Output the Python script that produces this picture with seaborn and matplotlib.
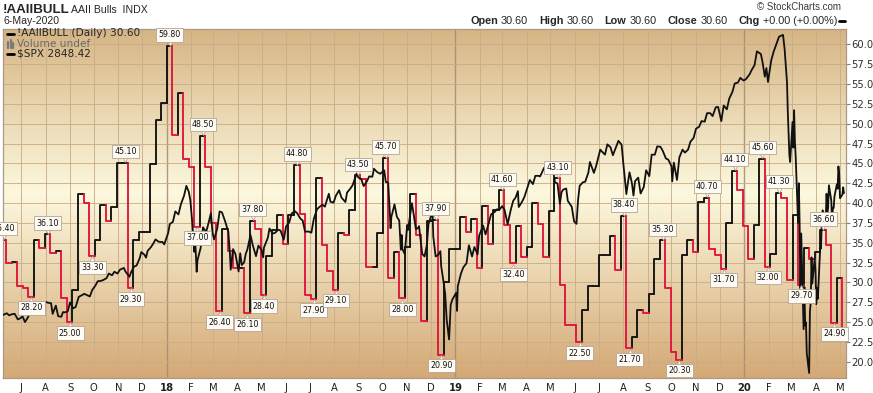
import numpy as np
import pandas as pd
import seaborn as sns
import matplotlib.pyplot as plt
import matplotlib.dates as mdates
from matplotlib.transforms import offset_copy
from matplotlib.lines import Line2D

W, H = 873, 393

# AAII % bullish, one reading per week (week-start Monday)
aaii_first_week = "2017-06-05"
aaii_2017 = [35.4, 32.4, 32.6, 29.6, 29.3, 28.2, 35.3, 34.3, 36.1, 33.7,
             34.0, 28.0, 25.0, 29.1, 41.1, 40.0, 33.3, 35.4, 39.7, 37.7,
             39.5, 45.1, 45.1, 29.3, 35.3, 36.4, 36.4, 44.9, 50.5, 52.6]
aaii_2018 = [59.8, 48.6, 53.9, 45.5, 44.6, 37.0, 48.5, 44.5, 37.5, 26.4,
             36.7, 34.0, 31.8, 31.8, 26.1, 37.8, 36.7, 28.4, 33.3, 36.6,
             38.5, 34.9, 38.5, 44.8, 38.6, 28.4, 27.9, 43.1, 34.7, 31.5,
             29.1, 36.2, 36.0, 39.1, 43.5, 43.0, 32.0, 32.0, 36.2, 45.7,
             30.6, 33.8, 28.0, 34.5, 41.1, 36.0, 25.2, 37.8, 37.9, 20.9,
             30.0, 34.2]
aaii_2019 = [34.2, 38.3, 36.4, 38.0, 31.8, 39.6, 34.9, 39.1, 41.6, 37.2,
             32.4, 37.1, 33.2, 34.5, 40.0, 37.4, 33.2, 39.0, 43.1, 29.7,
             24.7, 24.6, 22.5, 26.5, 29.5, 29.5, 33.5, 33.5, 35.8, 31.6,
             38.4, 21.7, 23.1, 26.5, 26.2, 28.6, 33.0, 35.3, 29.3, 21.3,
             20.3, 33.5, 35.4, 33.8, 40.2, 40.7, 34.2, 33.5, 31.7, 37.5,
             44.1, 41.7]
aaii_2020 = [37.1, 33.0, 37.3, 45.6, 32.0, 33.6, 41.3, 40.6, 30.3, 38.5,
             29.7, 34.3, 33.0, 33.8, 36.6, 34.7, 24.9, 30.6, 24.0]
aaii_last_day = "2020-05-06"

# weeks (index into the weekly series) that carry a value flag
peak_weeks = [0, 8, 22, 30, 36, 45, 53, 64, 69, 78, 90, 100, 112, 119, 127,
              132, 137, 140, 148]
trough_weeks = [5, 12, 16, 23, 35, 39, 44, 47, 56, 60, 72, 79, 92, 104, 113,
                122, 130, 138, 144, 150]

# S&P 500 closes (hidden overlay scale)
spx_2017 = [("06-05", 2437), ("06-08", 2434), ("06-13", 2440), ("06-16", 2433),
            ("06-20", 2437), ("06-23", 2438), ("06-27", 2419), ("06-30", 2423),
            ("07-03", 2429), ("07-06", 2410), ("07-10", 2427), ("07-14", 2459),
            ("07-19", 2473), ("07-21", 2472), ("07-26", 2477), ("07-28", 2472),
            ("08-02", 2478), ("08-04", 2476), ("08-08", 2474), ("08-10", 2438),
            ("08-14", 2466), ("08-17", 2430), ("08-21", 2428), ("08-23", 2444),
            ("08-25", 2443), ("08-29", 2446), ("09-01", 2477), ("09-05", 2457),
            ("09-08", 2461), ("09-12", 2496), ("09-15", 2500), ("09-19", 2506),
            ("09-22", 2502), ("09-26", 2497), ("09-29", 2519), ("10-03", 2534),
            ("10-06", 2549), ("10-10", 2550), ("10-13", 2553), ("10-17", 2559),
            ("10-20", 2575), ("10-24", 2569), ("10-27", 2581), ("10-31", 2575),
            ("11-03", 2588), ("11-08", 2594), ("11-10", 2582), ("11-15", 2564),
            ("11-17", 2579), ("11-21", 2599), ("11-24", 2602), ("11-28", 2627),
            ("11-30", 2648), ("12-04", 2639), ("12-06", 2629), ("12-08", 2652),
            ("12-12", 2664), ("12-15", 2676), ("12-18", 2691), ("12-22", 2683),
            ("12-27", 2682), ("12-29", 2674)]
spx_2018 = [("01-03", 2713), ("01-05", 2743), ("01-09", 2751), ("01-12", 2786),
            ("01-16", 2776), ("01-19", 2810), ("01-23", 2839), ("01-26", 2873),
            ("01-29", 2853), ("01-31", 2824), ("02-02", 2762), ("02-05", 2649),
            ("02-06", 2695), ("02-08", 2581), ("02-09", 2620), ("02-13", 2662),
            ("02-16", 2732), ("02-20", 2716), ("02-23", 2747), ("02-26", 2780),
            ("02-28", 2714), ("03-02", 2691), ("03-06", 2728), ("03-09", 2786),
            ("03-12", 2783), ("03-16", 2752), ("03-20", 2717), ("03-22", 2643),
            ("03-23", 2588), ("03-26", 2658), ("03-29", 2641), ("04-02", 2582),
            ("04-04", 2644), ("04-06", 2604), ("04-09", 2613), ("04-11", 2642),
            ("04-13", 2656), ("04-17", 2706), ("04-20", 2670), ("04-24", 2634),
            ("04-27", 2670), ("05-01", 2655), ("05-03", 2630), ("05-04", 2663),
            ("05-09", 2697), ("05-11", 2728), ("05-15", 2711), ("05-18", 2713),
            ("05-22", 2724), ("05-25", 2721), ("05-29", 2690), ("06-01", 2735),
            ("06-05", 2749), ("06-08", 2779), ("06-12", 2787), ("06-15", 2780),
            ("06-19", 2762), ("06-22", 2755), ("06-25", 2717), ("06-29", 2718),
            ("07-03", 2714), ("07-06", 2760), ("07-10", 2793), ("07-13", 2801),
            ("07-17", 2809), ("07-20", 2802), ("07-25", 2846), ("07-27", 2819),
            ("07-31", 2816), ("08-03", 2840), ("08-07", 2858), ("08-10", 2833),
            ("08-15", 2818), ("08-17", 2850), ("08-21", 2863), ("08-24", 2875),
            ("08-29", 2914), ("08-31", 2902), ("09-04", 2896), ("09-07", 2872),
            ("09-11", 2888), ("09-14", 2905), ("09-18", 2904), ("09-20", 2931),
            ("09-24", 2920), ("09-28", 2914), ("10-03", 2926), ("10-05", 2886),
            ("10-08", 2884), ("10-10", 2786), ("10-11", 2729), ("10-12", 2767),
            ("10-16", 2810), ("10-19", 2768), ("10-22", 2755), ("10-24", 2656),
            ("10-25", 2706), ("10-26", 2658), ("10-29", 2641), ("11-01", 2740),
            ("11-02", 2723), ("11-07", 2814), ("11-09", 2781), ("11-12", 2726),
            ("11-15", 2730), ("11-16", 2736), ("11-20", 2642), ("11-23", 2633),
            ("11-26", 2674), ("11-28", 2744), ("11-30", 2760), ("12-03", 2790),
            ("12-04", 2701), ("12-07", 2633), ("12-10", 2638), ("12-13", 2651),
            ("12-14", 2600), ("12-17", 2546), ("12-19", 2507), ("12-21", 2417),
            ("12-24", 2351), ("12-26", 2468), ("12-28", 2486)]
spx_2019 = [("01-02", 2510), ("01-03", 2448), ("01-04", 2532), ("01-08", 2575),
            ("01-11", 2596), ("01-15", 2610), ("01-18", 2671), ("01-22", 2633),
            ("01-25", 2665), ("01-29", 2640), ("01-31", 2704), ("02-05", 2738),
            ("02-08", 2708), ("02-12", 2745), ("02-15", 2776), ("02-20", 2785),
            ("02-22", 2793), ("02-26", 2793), ("03-01", 2804), ("03-04", 2792),
            ("03-08", 2743), ("03-12", 2792), ("03-15", 2822), ("03-18", 2833),
            ("03-21", 2855), ("03-22", 2801), ("03-26", 2818), ("03-29", 2834),
            ("04-02", 2867), ("04-05", 2893), ("04-09", 2879), ("04-12", 2907),
            ("04-16", 2907), ("04-18", 2905), ("04-23", 2934), ("04-26", 2940),
            ("04-30", 2946), ("05-03", 2946), ("05-07", 2884), ("05-10", 2881),
            ("05-13", 2812), ("05-15", 2850), ("05-17", 2860), ("05-21", 2864),
            ("05-23", 2822), ("05-28", 2802), ("05-31", 2752), ("06-03", 2744),
            ("06-05", 2826), ("06-07", 2873), ("06-11", 2885), ("06-14", 2887),
            ("06-18", 2918), ("06-20", 2954), ("06-25", 2917), ("06-28", 2942),
            ("07-03", 2996), ("07-05", 2990), ("07-09", 2979), ("07-12", 3014),
            ("07-16", 3004), ("07-19", 2977), ("07-23", 3005), ("07-26", 3026),
            ("07-30", 3013), ("08-01", 2954), ("08-05", 2845), ("08-07", 2884),
            ("08-09", 2919), ("08-12", 2883), ("08-14", 2840), ("08-16", 2889),
            ("08-20", 2901), ("08-23", 2847), ("08-27", 2869), ("08-30", 2926),
            ("09-03", 2906), ("09-06", 2979), ("09-10", 2979), ("09-13", 3007),
            ("09-17", 3006), ("09-20", 2992), ("09-24", 2966), ("09-27", 2962),
            ("10-01", 2940), ("10-02", 2888), ("10-04", 2952), ("10-08", 2893),
            ("10-11", 2970), ("10-15", 2996), ("10-18", 2986), ("10-22", 2996),
            ("10-25", 3023), ("10-29", 3036), ("11-01", 3067), ("11-05", 3074),
            ("11-08", 3093), ("11-12", 3091), ("11-15", 3120), ("11-19", 3120),
            ("11-22", 3110), ("11-26", 3140), ("11-29", 3141), ("12-03", 3093),
            ("12-06", 3146), ("12-10", 3133), ("12-13", 3169), ("12-17", 3192),
            ("12-20", 3221), ("12-24", 3224), ("12-27", 3240), ("12-31", 3231)]
spx_2020 = [("01-03", 3235), ("01-06", 3246), ("01-08", 3253), ("01-10", 3265),
            ("01-14", 3283), ("01-17", 3330), ("01-22", 3321), ("01-24", 3295),
            ("01-27", 3244), ("01-29", 3273), ("01-31", 3226), ("02-04", 3298),
            ("02-07", 3328), ("02-11", 3358), ("02-14", 3380), ("02-19", 3386),
            ("02-21", 3338), ("02-24", 3226), ("02-25", 3128), ("02-27", 2979),
            ("02-28", 2954), ("03-02", 3090), ("03-03", 3003), ("03-04", 3130),
            ("03-05", 3024), ("03-06", 2972), ("03-09", 2747), ("03-10", 2882),
            ("03-11", 2741), ("03-12", 2481), ("03-13", 2711), ("03-16", 2386),
            ("03-17", 2529), ("03-18", 2398), ("03-19", 2409), ("03-20", 2305),
            ("03-23", 2237), ("03-24", 2447), ("03-25", 2476), ("03-26", 2630),
            ("03-27", 2541), ("03-30", 2627), ("03-31", 2585), ("04-01", 2471),
            ("04-02", 2527), ("04-03", 2489), ("04-06", 2664), ("04-07", 2660),
            ("04-08", 2750), ("04-09", 2790), ("04-13", 2762), ("04-14", 2846),
            ("04-15", 2783), ("04-16", 2800), ("04-17", 2875), ("04-20", 2823),
            ("04-21", 2737), ("04-22", 2799), ("04-23", 2798), ("04-24", 2837),
            ("04-27", 2878), ("04-28", 2863), ("04-29", 2939), ("04-30", 2912),
            ("05-01", 2831), ("05-04", 2843), ("05-05", 2868), ("05-06", 2848)]

month_labels = ["J", "A", "S", "O", "N", "D",
                "18", "F", "M", "A", "M", "J", "J", "A", "S", "O", "N", "D",
                "19", "F", "M", "A", "M", "J", "J", "A", "S", "O", "N", "D",
                "20", "F", "M", "A", "M"]

# ---------------------------------------------------------------- data prep
aaii = aaii_2017 + aaii_2018 + aaii_2019 + aaii_2020
weeks = pd.date_range(aaii_first_week, periods=len(aaii), freq="7D")
ends = list(weeks[1:]) + [pd.Timestamp(aaii_last_day)]

seg_rows = []
for i, v in enumerate(aaii):
    prev = aaii[i - 1] if i > 0 else v
    d = "down" if v < prev else "up"
    seg_rows += [(i, weeks[i], prev, d), (i, weeks[i], v, d), (i, ends[i], v, d)]
seg = pd.DataFrame(seg_rows, columns=["seg", "date", "value", "dir"])

spx = pd.DataFrame(
    [(f"{yr}-{md}", c) for yr, rows in [(2017, spx_2017), (2018, spx_2018),
                                         (2019, spx_2019), (2020, spx_2020)]
     for md, c in rows], columns=["date", "close"])
spx["date"] = pd.to_datetime(spx["date"])

month_ticks = pd.date_range("2017-07-01", "2020-05-01", freq="MS")

# ---------------------------------------------------------------- figure
sns.set_theme(style="white")
plt.rcParams["font.family"] = ["DejaVu Sans"]

fig = plt.figure(figsize=(W / 100, H / 100), dpi=100)
ax = fig.add_axes([3 / W, 15 / H, 843 / W, 349 / H])

# tan -> cream -> tan backdrop
stops = np.array([[0.84, 0.71, 0.52], [0.99, 0.975, 0.87], [0.83, 0.66, 0.46]])
t = np.linspace(0, 1, 256)
grad = np.stack([np.interp(t, [0, 0.47, 1], stops[:, c]) for c in range(3)], axis=1)
ax.imshow(grad[:, None, :], extent=[0, 1, 0, 1], transform=ax.transAxes,
          aspect="auto", zorder=0)

sns.lineplot(data=seg, x="date", y="value", units="seg", estimator=None,
             hue="dir", palette={"up": "#111111", "down": "#e0153c"},
             sort=False, legend=False, linewidth=1.35, ax=ax)

ax2 = ax.twinx()
sns.lineplot(data=spx, x="date", y="close", color="#111111", linewidth=1.3,
             ax=ax2)
ax2.set_ylim(2220, 3406)
ax2.set_yticks([])
ax2.set_ylabel("")
ax2.set_xlabel("")
for s in ax2.spines.values():
    s.set_visible(False)

ax.set_xlim(pd.Timestamp("2017-06-08 06:00"), pd.Timestamp("2020-05-08 14:00"))
ax.set_ylim(17.97, 61.93)
ax.set_xlabel("")
ax.set_ylabel("")

# axes styling
ax.yaxis.tick_right()
ax.set_yticks(np.arange(20, 60.01, 2.5))
ax.yaxis.set_major_formatter(plt.FormatStrFormatter("%.1f"))
ax.tick_params(axis="y", direction="out", length=3, width=0.8, color="#8c7c6e",
               pad=1, labelsize=7.2, labelcolor="#303030", right=True, left=False)
ax.set_xticks(month_ticks, labels=month_labels)
ax.tick_params(axis="x", length=0, pad=3.5, labelsize=7.2, labelcolor="#202020")
ax.grid(True, color="#c9ad87", linewidth=0.7, alpha=0.9)
for tick, d in zip(ax.xaxis.get_major_ticks(), month_ticks):
    if d.month == 1:
        tick.gridline.set_color("#a88e70")
        tick.gridline.set_linewidth(1.0)
        tick.label1.set_fontweight("bold")
for s in ax.spines.values():
    s.set_visible(True)
    s.set_color("#ac9886")
    s.set_linewidth(0.9)

# value flags (boxes with a pointer)
flag_box = dict(boxstyle="square,pad=0.28", fc="#fdfbf3", ec="#b5a596", lw=0.6)
for idx_list, sign in [(peak_weeks, 1), (trough_weeks, -1)]:
    xs = [mdates.date2num(weeks[i] + pd.Timedelta(days=4)) for i in idx_list]
    vs = [aaii[i] for i in idx_list]
    tr = offset_copy(ax.transData, fig=fig, x=0, y=3.2 * sign, units="dots")
    ax2.plot(xs, vs, linestyle="none", marker="v" if sign > 0 else "^",
             markersize=4.6, markerfacecolor="#fdfbf3", markeredgecolor="#b5a596",
             markeredgewidth=0.6, transform=tr, zorder=9, clip_on=False)
    for x, v in zip(xs, vs):
        ax2.annotate(f"{v:.2f}", xy=(x, v), xycoords=ax.transData,
                     xytext=(0, 11 * sign), textcoords="offset pixels",
                     ha="center", va="center", fontsize=5.7, color="#111111",
                     bbox=flag_box, zorder=10, annotation_clip=False)


# ---------------------------------------------------------------- header
def px(x, y):
    return x / W, 1 - y / H


fig.text(*px(3, 13), "!AAIIBULL", fontsize=9.6, fontweight="bold",
         family="Liberation Sans", va="baseline")
fig.text(*px(71, 13), "AAII Bulls  INDX", fontsize=7.6,
         family="Liberation Sans", va="baseline")
fig.text(*px(3, 24.5), "6-May-2020", fontsize=7.6, family="Liberation Sans",
         va="baseline")
fig.text(*px(841, 9.5), "\u00a9 StockCharts.com", fontsize=7.0,
         family="Liberation Sans", va="baseline", ha="right", color="#3a3a3a")

renderer = fig.canvas.get_renderer()
pieces = [("Open", True, 0), ("30.60", False, 3), ("High", True, 11),
          ("30.60", False, 3), ("Low", True, 11), ("30.60", False, 3),
          ("Close", True, 11), ("30.60", False, 3), ("Chg", True, 11),
          ("+0.00 (+0.00%)", False, 3)]
x_right = 837
for text, bold, gap in reversed(pieces):
    tt = fig.text(*px(x_right, 24.5), text, fontsize=7.8, ha="right",
                  va="baseline", family="Liberation Sans",
                  fontweight="bold" if bold else "normal")
    x_right -= tt.get_window_extent(renderer).width + gap
fig.add_artist(Line2D([839 / W, 845 / W], [1 - 21 / H] * 2, color="black", lw=2))

# in-chart legend
fig.add_artist(Line2D([7 / W, 14 / W], [1 - 33.5 / H] * 2, color="black", lw=2))
fig.add_artist(Line2D([7 / W, 14 / W], [1 - 54 / H] * 2, color="black", lw=2))
for bx, top in [(8, 42), (10.5, 40), (13, 43)]:
    fig.add_artist(Line2D([bx / W] * 2, [1 - 47.5 / H, 1 - top / H],
                          color="#7a7a7a", lw=1.6))
fig.text(*px(17, 33.5), "!AAIIBULL (Daily) 30.60", fontsize=7.6, va="center")
fig.text(*px(17, 44), "Volume undef", fontsize=7.6, va="center", color="#6a6a6a")
fig.text(*px(17, 54), "$SPX 2848.42", fontsize=7.6, va="center")

fig.savefig("out.png", dpi=100)
